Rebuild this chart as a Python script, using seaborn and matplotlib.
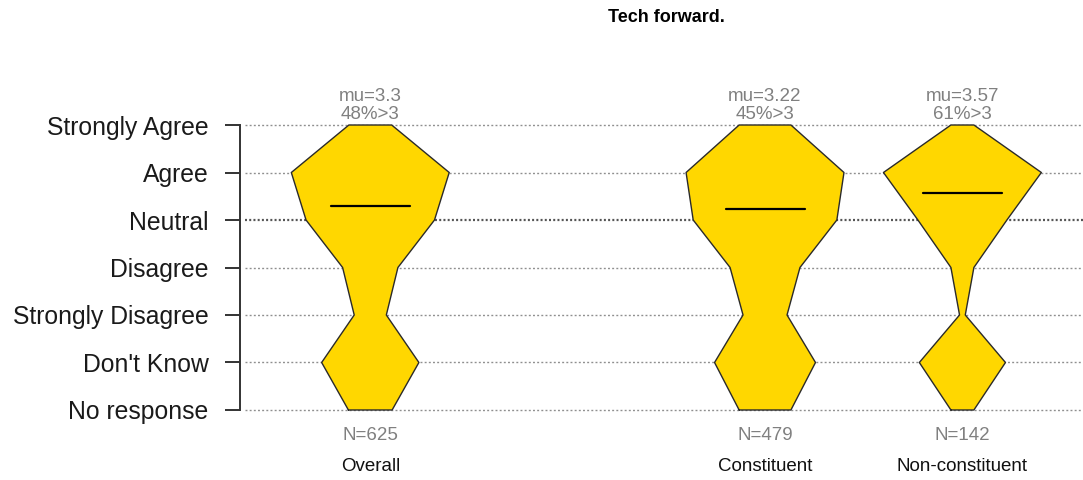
import numpy as np
import pandas as pd
import matplotlib
matplotlib.use("Agg")
import matplotlib.pyplot as plt
import seaborn as sns

# ---- data ----
levels = ["No response", "Don't Know", "Strongly Disagree", "Disagree",
          "Neutral", "Agree", "Strongly Agree"]
level_values = [-1, 0, 1, 2, 3, 4, 5]
groups = ["Overall", "Constituent", "Non-constituent"]
group_slots = [0, 2, 3]
overall_counts = [49, 109, 36, 62, 144, 177, 48]
constituent_counts = [40, 78, 34, 54, 111, 122, 40]
nonconstituent_counts = [8, 30, 2, 8, 31, 55, 8]
title = "Tech forward."

counts = {"Overall": overall_counts,
          "Constituent": constituent_counts,
          "Non-constituent": nonconstituent_counts}

rows = []
for g, s in zip(groups, group_slots):
    for lab, v, c in zip(levels, level_values, counts[g]):
        rows.append({"group": g, "slot": s, "level": lab, "value": v, "count": c})
df = pd.DataFrame(rows)

sns.set_style("white")
plt.rcParams["font.family"] = ["Liberation Sans", "DejaVu Sans"]

fig = plt.figure(figsize=(10.83, 4.80), dpi=100)
ax = fig.add_axes([240 / 1083, 1 - 445 / 480, 843 / 1083, 355 / 480])
ax.set_xlim(-0.66, 3.611)
ax.set_ylim(-1.737, 5.737)

# gridlines
for v in level_values:
    if v == 3:
        ax.axhline(v, xmin=0.006, xmax=1, color="#555555", lw=1.6,
                   linestyle=(0, (0.9, 1.0)), zorder=1)
    else:
        ax.axhline(v, xmin=0.006, xmax=1, color="#8f8f8f", lw=1.0,
                   linestyle=(0, (1.4, 1.6)), zorder=1)

half_max = 0.4
for g, s in zip(groups, group_slots):
    d = df[df.group == g].sort_values("value")
    w = d["count"].to_numpy() / d["count"].max() * half_max
    y = d["value"].to_numpy()
    ax.fill_betweenx(y, s - w, s + w, facecolor="#FFD700", edgecolor="none",
                     zorder=2, clip_on=False)
    xs = np.concatenate([s - w, (s + w)[::-1], [(s - w)[0]]])
    ys = np.concatenate([y, y[::-1], [y[0]]])
    ax.plot(xs, ys, color="#2a2a2a", lw=1.0, zorder=3, clip_on=False)

    lik = d[d.value >= 1]
    n_lik = lik["count"].sum()
    mu = (lik["value"] * lik["count"]).sum() / n_lik
    pct = 100 * lik[lik.value > 3]["count"].sum() / n_lik
    ntot = d["count"].sum()
    ax.plot([s - 0.2, s + 0.2], [mu, mu], color="black", lw=1.6, zorder=4)
    ax.text(s, 5.59, f"mu={round(mu, 2):g}", ha="center", va="center",
            fontsize=13.5, color="#808080", zorder=5)
    ax.text(s, 5.23, f"{round(pct):.0f}%>3", ha="center", va="center",
            fontsize=13.5, color="#808080", zorder=5)
    ax.text(s, -1.547, f"N={ntot}", ha="center", va="center",
            fontsize=13.5, color="#808080", clip_on=False)
    ax.text(s, -2.18, g, ha="center", va="center",
            fontsize=13.5, color="#111111", clip_on=False)

# axes styling
for sp in ["top", "right", "bottom"]:
    ax.spines[sp].set_visible(False)
ax.spines["left"].set_bounds(-1, 5)
ax.spines["left"].set_color("#333333")
ax.spines["left"].set_linewidth(1.4)
ax.set_yticks(level_values)
ax.set_yticklabels(levels, fontsize=17.8, color="#1a1a1a")
ax.tick_params(axis="y", length=11, width=1.4, color="#333333", pad=11.5, left=True)
ax.set_xticks([])
ax.set_xlabel("")
ax.set_ylabel("")

fig.text(666 / 1083, 1 - 18 / 480, title, ha="center", va="center",
         fontsize=13, fontweight="bold", color="black")

fig.savefig("out.png", dpi=100)
